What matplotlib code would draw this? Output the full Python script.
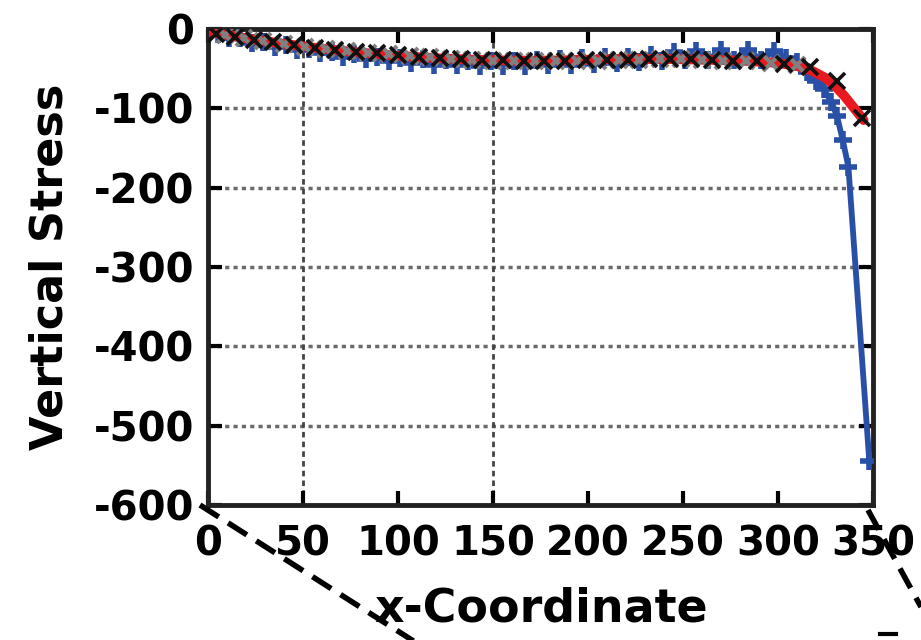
import numpy as np
import matplotlib
matplotlib.use("Agg")
import matplotlib.pyplot as plt
from matplotlib.lines import Line2D

# red curve (smooth, no markers)
red_x = [3, 20, 40, 60, 80, 100, 120, 140, 160, 180, 200, 220, 240, 260, 280,
         300, 310, 318, 325, 330, 335, 340, 345]
red_y = [-5, -12, -19, -25, -30, -34, -37, -39, -40, -40, -39, -38, -38, -39, -40,
         -43, -47, -53, -62, -72, -85, -100, -115]

# black x markers
blk_x = [4, 14, 24, 34, 45, 56, 67, 78, 89, 100, 111, 122, 133, 144, 155, 166,
         177, 188, 199, 210, 221, 232, 243, 254, 265, 276, 289, 303, 317, 331, 344]
blk_y = [-6, -10, -14, -17, -21, -24, -27, -29, -31, -33, -35, -37, -38, -39, -39, -40,
         -40, -40, -39, -39, -39, -38, -38, -38, -39, -40, -41, -44, -48, -66, -113]

# grey x markers (in between the black ones)
gry_x = [9, 19, 29, 40, 51, 62, 73, 84, 95, 106, 117, 128, 139, 150, 161, 172,
         183, 194, 205, 216, 227, 238, 249, 260, 271, 283, 296, 310]
gry_y = [-8, -12, -15, -19, -23, -26, -28, -30, -32, -34, -36, -38, -39, -40, -40, -41,
         -41, -40, -40, -39, -39, -38, -38, -39, -40, -41, -43, -46]

# blue + markers
blu_x = [5, 11, 17, 23, 29, 35, 41, 47, 53, 59, 65, 71, 77, 83, 89, 95, 101, 107,
         113, 119, 125, 131, 137, 143, 149, 155, 161, 167, 173, 179, 185, 191, 197,
         203, 209, 215, 221, 227, 233, 239, 245, 251, 257, 263, 270, 277, 284, 291,
         298, 304, 310, 315, 320, 324, 328, 331, 334, 337, 348]
blu_y = [-7, -12, -12, -18, -17, -23, -21, -27, -26, -31, -29, -35, -32, -38, -35, -41,
         -37, -43, -38, -45, -39, -46, -40, -47, -40, -47, -40, -47, -39, -46, -38, -45,
         -37, -44, -36, -43, -35, -42, -33, -41, -29, -39, -28, -39, -27, -39, -27, -39,
         -28, -37, -42, -55, -66, -76, -92, -110, -140, -174, -545]

xticks = [0, 50, 100, 150, 200, 250, 300, 350]
yticks = [0, -100, -200, -300, -400, -500, -600]

plt.rcParams['font.family'] = ['DejaVu Sans']
plt.rcParams['font.weight'] = 'bold'
plt.rcParams['axes.unicode_minus'] = False

fig = plt.figure(figsize=(9.21, 6.40), dpi=100)
ax = fig.add_axes([0.226, 0.211, 0.722, 0.744])

ax.plot(blu_x, blu_y, color='#2a4fa6', lw=4.2, marker='+', ms=13, mew=4, zorder=3)
ax.plot(red_x, red_y, color='#e81a1f', lw=7, zorder=4, solid_capstyle='round')
ax.plot(gry_x, gry_y, ls='none', marker='x', color='#808080', ms=12, mew=3, zorder=5)
ax.plot(blk_x, blk_y, ls='none', marker='x', color='#111111', ms=12, mew=2.6, zorder=6)

# grid: dotted horizontal, dashed vertical at 50 and 150
for yv in [-100, -200, -300, -400, -500]:
    ax.axhline(yv, color='#6a6a6a', lw=2.5, ls=(0, (1.2, 1.2)), zorder=1)
for xv in [50, 150]:
    ax.axvline(xv, color='#444444', lw=2, ls=(0, (2, 1.5)), zorder=1)

ax.set_xlim(0, 350)
ax.set_ylim(-600, 0)
ax.set_xticks(xticks)
ax.set_yticks(yticks)
ax.tick_params(direction='in', length=10, width=3, top=True, right=True,
               labelsize=29)
ax.tick_params(axis='x', pad=14)
ax.tick_params(axis='y', pad=10)
for s in ax.spines.values():
    s.set_linewidth(3.5)
    s.set_color('#222222')

ax.set_xlabel('x-Coordinate', fontsize=33, fontweight='bold', labelpad=16)
ax.set_ylabel('Vertical Stress', fontsize=32, fontweight='bold')
ax.yaxis.set_label_coords(-0.205, 0.5)

# zoom connector lines below the axes
W, H = 921.0, 640.0
def px(x, y):
    return x / W, 1 - y / H
for (x0, y0), (x1, y1) in [((200, 505), (415, 642)), ((868, 510), (921, 607))]:
    a, b = px(x0, y0)
    c, d = px(x1, y1)
    fig.add_artist(Line2D([a, c], [b, d], color='black', lw=4,
                          ls=(0, (4, 2)), transform=fig.transFigure))
a, b = px(880, 634)
c, d = px(896, 634)
fig.add_artist(Line2D([a, c], [b, d], color='black', lw=3, transform=fig.transFigure))

fig.savefig('out.png', dpi=100)
